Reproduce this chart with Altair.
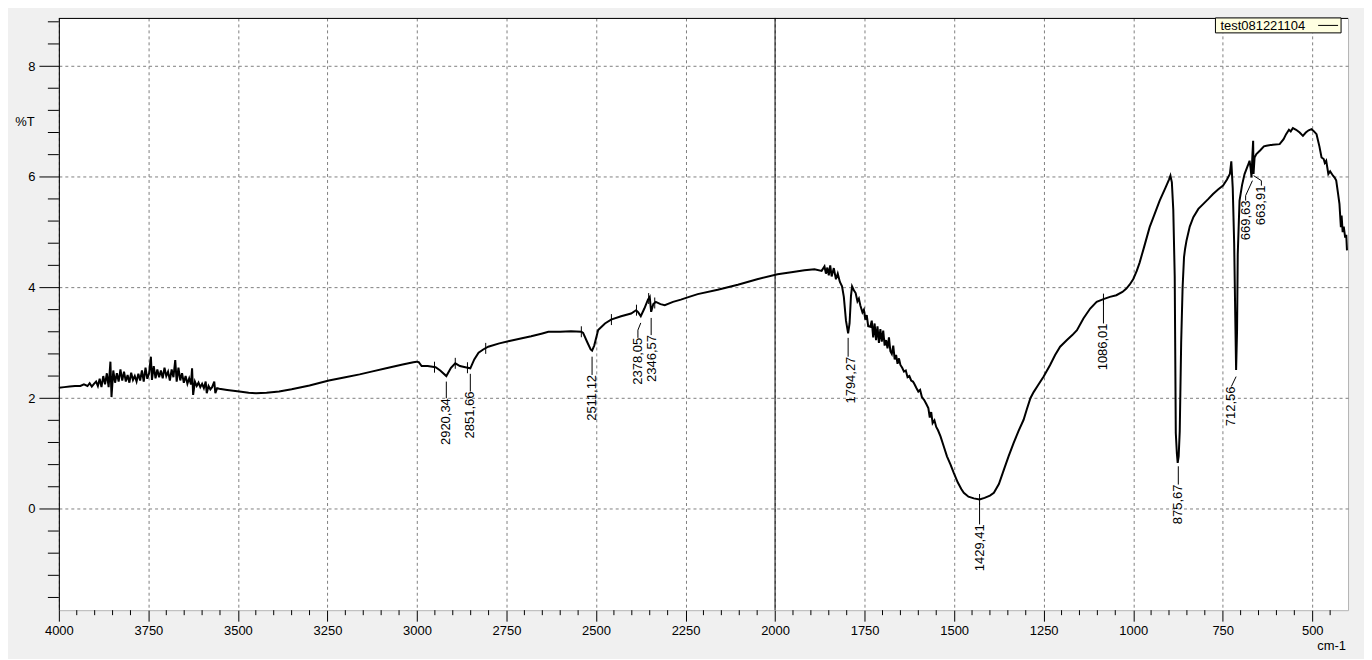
import altair as alt
import pandas as pd

# ---------------- spectrum (wavenumber cm-1, %T) ----------------
wavenumber = [
    4000, 3985, 3970, 3955, 3940, 3930, 3920, 3914, 3908, 3902,
    3896, 3891, 3886, 3881, 3876, 3871, 3866, 3861, 3856, 3853, 3848, 3843, 3838, 3833, 3828,
    3823, 3818, 3813, 3808, 3803, 3798, 3793, 3788, 3783, 3778, 3773, 3768, 3763, 3758, 3753,
    3748, 3743, 3740, 3735, 3730, 3725, 3720, 3715, 3710, 3705, 3700, 3695, 3690, 3685, 3680,
    3675, 3671, 3666, 3661, 3656, 3651, 3646, 3641, 3636, 3631, 3628, 3625, 3620, 3615, 3610,
    3605, 3600, 3595, 3590, 3587, 3582, 3577, 3572, 3566, 3563, 3558, 3552,
    3530, 3496, 3470, 3450, 3420, 3385, 3350, 3300, 3246, 3200, 3160, 3127, 3080, 3040, 3010,
    3001, 2995, 2987, 2970, 2948, 2935, 2918, 2905, 2893, 2880, 2865, 2851, 2840, 2828, 2815,
    2801, 2770, 2745, 2710, 2681, 2650, 2633, 2600, 2570, 2541, 2536, 2525, 2515, 2511, 2505,
    2494, 2475, 2458, 2430, 2402, 2388, 2382, 2375, 2365, 2355, 2350, 2346, 2340, 2333, 2320,
    2308, 2285, 2263, 2240, 2216, 2160, 2104, 2050, 1993, 1950, 1918, 1890, 1870, 1862, 1858,
    1854, 1850, 1846, 1842, 1836, 1830, 1825, 1819, 1813, 1808, 1802, 1796, 1792, 1788, 1785,
    1780, 1775, 1770, 1766, 1762, 1756, 1752, 1748, 1744, 1740, 1734, 1730, 1726, 1722, 1718,
    1714, 1710, 1706, 1702, 1698, 1694, 1690, 1686, 1682, 1678, 1674, 1670, 1666, 1662, 1658,
    1654, 1650, 1645, 1640, 1635, 1630, 1625, 1620, 1615, 1612, 1605, 1600, 1595, 1590, 1584,
    1578, 1572, 1568, 1564, 1560, 1555, 1550, 1545, 1538, 1530, 1520, 1510, 1501, 1490, 1480,
    1473, 1460, 1445, 1429, 1415, 1400, 1389, 1375, 1361, 1348, 1334, 1320, 1306, 1297, 1287,
    1278, 1268, 1250, 1232, 1218, 1204, 1185, 1170, 1157, 1139, 1120, 1102, 1083, 1065, 1047,
    1030, 1019, 1010, 1000, 990, 982, 970, 954, 940, 926, 910, 900, 896, 892, 888,
    884, 881, 878, 875.7, 873, 870, 866, 862, 858, 855, 851, 842, 832, 818, 804,
    790, 777, 763, 749, 738, 730, 726, 722, 718, 715, 712.6, 710, 708, 703, 696,
    689, 680, 675, 672, 669.6, 667, 665, 663.9, 661, 656, 645, 635, 628, 610, 591,
    580, 573, 565, 560, 554, 545, 535, 526, 518, 510, 502, 495, 488, 480, 474,
    468, 465, 461, 455, 450, 442, 437, 433, 428, 424, 420, 418, 415, 412, 408,
    405, 403,
]
transmittance = [
    2.19, 2.20, 2.21, 2.22, 2.22, 2.25, 2.22, 2.27, 2.21, 2.26,
    2.30, 2.22, 2.35, 2.20, 2.40, 2.25, 2.45, 2.20, 2.66, 2.02, 2.50, 2.28, 2.45, 2.30, 2.52,
    2.32, 2.48, 2.30, 2.42, 2.28, 2.46, 2.33, 2.40, 2.30, 2.44, 2.32, 2.50, 2.30, 2.55, 2.35,
    2.45, 2.75, 2.33, 2.58, 2.36, 2.52, 2.38, 2.50, 2.36, 2.55, 2.40, 2.48, 2.32, 2.52, 2.38,
    2.69, 2.30, 2.55, 2.32, 2.45, 2.28, 2.40, 2.26, 2.36, 2.25, 2.54, 2.06, 2.30, 2.22, 2.28,
    2.20, 2.26, 2.18, 2.30, 2.09, 2.22, 2.16, 2.20, 2.30, 2.09, 2.18, 2.17,
    2.15, 2.12, 2.10, 2.09, 2.10, 2.12, 2.16, 2.23, 2.32, 2.38, 2.43, 2.48, 2.55, 2.61, 2.65,
    2.66, 2.65, 2.58, 2.58, 2.56, 2.50, 2.40, 2.55, 2.63, 2.58, 2.56, 2.54, 2.70, 2.82, 2.88,
    2.93, 2.99, 3.03, 3.08, 3.12, 3.17, 3.20, 3.20, 3.21, 3.20, 3.18, 3.02, 2.88, 2.86, 2.95,
    3.23, 3.35, 3.42, 3.48, 3.53, 3.59, 3.55, 3.48, 3.62, 3.78, 3.83, 3.56, 3.70, 3.74, 3.70,
    3.68, 3.74, 3.78, 3.83, 3.88, 3.96, 4.05, 4.15, 4.24, 4.28, 4.31, 4.33, 4.30, 4.38, 4.25,
    4.36, 4.22, 4.40, 4.20, 4.35, 4.15, 4.25, 4.10, 4.02, 3.83, 3.40, 3.17, 3.35, 3.85, 4.02,
    3.95, 3.90, 3.75, 3.80, 3.68, 3.55, 3.60, 3.42, 3.50, 3.30, 3.29, 3.40, 3.10, 3.35, 3.05,
    3.30, 3.00, 3.25, 3.02, 3.22, 2.95, 3.05, 2.90, 3.10, 2.85, 2.80, 2.95, 2.70, 2.78, 2.62,
    2.72, 2.60, 2.55, 2.48, 2.50, 2.38, 2.40, 2.32, 2.30, 2.27, 2.18, 2.12, 2.15, 2.02, 1.97,
    1.90, 1.82, 1.65, 1.75, 1.55, 1.60, 1.48, 1.42, 1.31, 1.15, 0.95, 0.80, 0.65, 0.48, 0.36,
    0.29, 0.22, 0.19, 0.17, 0.20, 0.24, 0.29, 0.45, 0.71, 0.95, 1.19, 1.41, 1.61, 1.80, 2.00,
    2.11, 2.21, 2.39, 2.60, 2.78, 2.93, 3.05, 3.14, 3.23, 3.44, 3.62, 3.74, 3.79, 3.83, 3.86,
    3.92, 3.98, 4.05, 4.15, 4.30, 4.45, 4.72, 5.09, 5.33, 5.57, 5.80, 5.95, 6.02, 5.90, 5.40,
    4.20, 1.37, 1.00, 0.83, 0.95, 1.40, 3.00, 4.00, 4.55, 4.70, 4.85, 5.10, 5.27, 5.42, 5.51,
    5.60, 5.69, 5.77, 5.84, 5.95, 6.05, 6.28, 5.80, 4.80, 3.50, 2.51, 3.20, 4.60, 5.57, 5.85,
    6.05, 6.20, 6.29, 6.15, 5.99, 6.40, 6.65, 6.05, 6.35, 6.41, 6.48, 6.55, 6.56, 6.58, 6.59,
    6.68, 6.77, 6.85, 6.82, 6.88, 6.85, 6.80, 6.74, 6.80, 6.84, 6.86, 6.82, 6.77, 6.55, 6.35,
    6.32, 6.25, 6.29, 6.05, 6.10, 6.02, 5.98, 5.93, 5.70, 5.51, 5.09, 5.30, 5.00, 5.10, 4.90,
    4.95, 4.67,
]

# ---------------- peak picks ----------------
peak_text = ["2920,34", "2851,66", "2511,12", "2378,05", "2346,57", "1794,27",
             "1429,41", "1086,01", "875,67", "712,56", "669,63", "663,91"]
peak_label_w = [2918, 2851, 2511, 2383, 2343, 1789, 1429, 1083, 874, 726, 684, 642]
peak_label_top = [2.00, 2.12, 2.42, 3.09, 3.14, 2.75, -0.28, 3.35, 0.44, 2.21, 5.57, 5.84]

# leader segments (start -> end)
lead_w1 = [2918, 2851, 2511, 2375, 2383, 2346, 1796, 1429, 1083, 874, 712.6, 726, 667, 686, 663.6, 642]
lead_v1 = [2.30, 2.44, 2.75, 3.36, 3.23, 3.45, 3.09, 0.11, 3.77, 0.77, 2.39, 2.21, 5.93, 5.66, 6.02, 5.93]
lead_w2 = [2918, 2851, 2511, 2383, 2383, 2346, 1796, 1429, 1083, 874, 726, 726, 686, 686, 642, 642]
lead_v2 = [2.00, 2.12, 2.42, 3.23, 3.09, 3.14, 2.75, -0.28, 3.35, 0.44, 2.21, 2.21, 5.66, 5.57, 5.93, 5.84]

# small peak-pick markers on the curve
mark_w = [2951, 2893, 2859, 2808, 2541, 2457, 2387, 2353, 2336, 1429, 1083]
mark_v = [2.56, 2.63, 2.55, 2.90, 3.20, 3.42, 3.59, 3.80, 3.72, 0.17, 3.79]

x_major = [4000, 3750, 3500, 3250, 3000, 2750, 2500, 2250, 2000, 1750, 1500, 1250, 1000, 750, 500]
x_minor = [v for v in range(450, 4000, 50) if v % 250 != 0]
y_major = [0, 2, 4, 6, 8]
y_minor = [-1.6, -1.2, -0.8, -0.4, 0.4, 0.8, 1.2, 1.6, 2.4, 2.8, 3.2, 3.6,
           4.4, 4.8, 5.2, 5.6, 6.4, 6.8, 7.2, 7.6, 8.4, 8.8]

W, H = 1293, 594
FONT = "Liberation Sans"

xs = alt.Scale(domain=[4000, 400], nice=False, zero=False)
ys = alt.Scale(domain=[-1.83, 8.87], nice=False, zero=False)
xaxis = alt.Axis(values=x_major, format="d", tickSize=11, tickColor="black", domain=False,
                 labelFontSize=13, labelColor="black", labelFont=FONT, labelPadding=3,
                 grid=True, gridColor="#808080", gridDash=[3, 3], labelFlush=False)
yaxis = alt.Axis(values=y_major, format="d", tickSize=20, tickColor="black", domain=True,
                 domainColor="black", labelFontSize=13, labelColor="black", labelFont=FONT,
                 labelPadding=4, grid=True, gridColor="#808080", gridDash=[3, 3])

X = alt.X("w:Q", scale=xs, axis=xaxis, title="")
Y = alt.Y("v:Q", scale=ys, axis=yaxis, title="")

spec = pd.DataFrame({"w": wavenumber, "v": transmittance})
one = pd.DataFrame({"w": [0]})

line = alt.Chart(spec).mark_line(color="black", strokeWidth=2).encode(x=X, y=Y)

cursor = alt.Chart(pd.DataFrame({"w": [2000]})).mark_rule(color="black", strokeWidth=1).encode(x=X)

top_border = alt.Chart(one).mark_rule(color="black", strokeWidth=1).encode(
    x=alt.value(0), x2=alt.value(W), y=alt.value(0.5))

xminor = alt.Chart(pd.DataFrame({"w": x_minor})).mark_rule(color="black").encode(
    x=X, y=alt.value(H), y2=alt.value(H + 5))
yminor = alt.Chart(pd.DataFrame({"v": y_minor})).mark_rule(color="black").encode(
    y=Y, x=alt.value(-11), x2=alt.value(0))

leaders = alt.Chart(pd.DataFrame({"w": lead_w1, "v": lead_v1, "w2": lead_w2, "v2": lead_v2})).mark_rule(
    color="black", strokeWidth=1).encode(x=X, y=Y, x2="w2:Q", y2="v2:Q")

labels = alt.Chart(pd.DataFrame({"w": peak_label_w, "v": peak_label_top, "t": peak_text})).mark_text(
    angle=270, align="right", baseline="middle", fontSize=13, font=FONT, color="black").encode(
    x=X, y=Y, text="t:N")

markers = alt.Chart(pd.DataFrame({"w": mark_w, "v": mark_v})).mark_point(
    shape="M0,-1L0,1", size=121, stroke="black", strokeWidth=1, filled=False, opacity=1).encode(x=X, y=Y)

legend_box = alt.Chart(one).mark_rect(fill="#ffffe1", stroke="black", strokeWidth=1).encode(
    x=alt.value(1160), x2=alt.value(1286), y=alt.value(0), y2=alt.value(15))
legend_text = alt.Chart(one).mark_text(align="left", baseline="middle", fontSize=13, font=FONT,
                                       color="black").encode(
    x=alt.value(1165), y=alt.value(8), text=alt.value("test081221104"))
legend_line = alt.Chart(one).mark_rule(color="black", strokeWidth=1).encode(
    x=alt.value(1263), x2=alt.value(1283), y=alt.value(7.5))

ytitle = alt.Chart(one).mark_text(align="center", baseline="middle", fontSize=13, font=FONT,
                                  color="black").encode(
    x=alt.value(-34), y=alt.value(104), text=alt.value("%T"))
xtitle = alt.Chart(one).mark_text(align="right", baseline="middle", fontSize=13, font=FONT,
                                  color="black").encode(
    x=alt.value(1291), y=alt.value(630), text=alt.value("cm-1"))

chart = alt.layer(
    line, cursor, top_border, xminor, yminor, leaders, labels, markers,
    legend_box, legend_text, legend_line, ytitle, xtitle
).properties(
    width=W, height=H,
    autosize=alt.AutoSizeParams(type="none"),
    padding={"left": 51, "top": 9, "right": 16, "bottom": 48},
    background="#f0f0f0",
).configure_view(
    fill="white", stroke="#b4b4b4", strokeWidth=1
)

chart.save("out.html", embed_options={"renderer": "svg", "actions": False})
